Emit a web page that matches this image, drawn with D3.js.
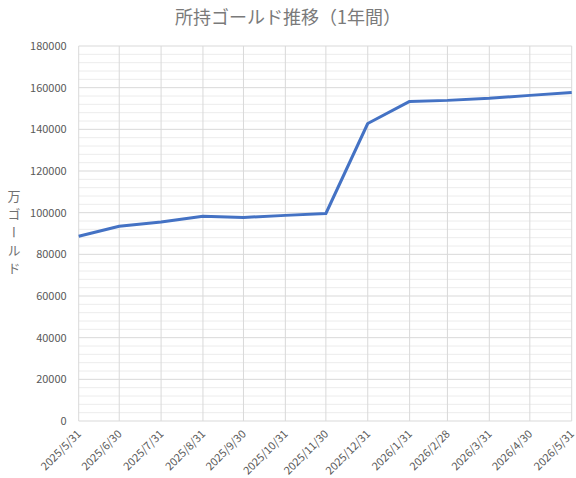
<!DOCTYPE html>
<html>
<head>
<meta charset="utf-8">
<script src="https://cdn.jsdelivr.net/npm/d3@7"></script>
<style>
  body { margin: 0; background: #fff; }
  text { font-family: "Noto Sans CJK JP", "Noto Sans", sans-serif; fill: #595959; }
</style>
</head>
<body>
<svg id="chart"></svg>
<script>
const width = 576;
const height = 478;

// data
const dates = ["2025/5/31", "2025/6/30", "2025/7/31", "2025/8/31", "2025/9/30", "2025/10/31",
  "2025/11/30", "2025/12/31", "2026/1/31", "2026/2/28", "2026/3/31", "2026/4/30", "2026/5/31"];
const gold = [88700, 93500, 95500, 98300, 97700, 98700, 99600, 142800, 153400, 153900, 154900, 156300, 157700];
const yTicks = [0, 20000, 40000, 60000, 80000, 100000, 120000, 140000, 160000, 180000];

const title = "所持ゴールド推移（1年間）";
const yTitle = "万ゴールド";

const margin = { top: 46, right: 4.3, bottom: 57, left: 78.7 };

const parse = d3.timeParse("%Y/%m/%d");
const points = dates.map((d, i) => ({ date: parse(d), label: d, value: gold[i] }));

const svg = d3.select("#chart").attr("width", width).attr("height", height);

const x = d3.scaleTime()
  .domain(d3.extent(points, d => d.date))
  .range([margin.left, width - margin.right]);

const y = d3.scaleLinear()
  .domain([0, 180000])
  .range([height - margin.bottom, margin.top]);

// minor gridlines every 4000
const minor = d3.range(0, 180001, 4000).filter(v => v % 20000 != 0);
svg.append("g")
  .selectAll("line")
  .data(minor)
  .join("line")
  .attr("x1", margin.left).attr("x2", width - margin.right)
  .attr("y1", d => y(d)).attr("y2", d => y(d))
  .attr("stroke", "#ececec").attr("stroke-width", 1);

// major horizontal gridlines
svg.append("g")
  .selectAll("line")
  .data(yTicks)
  .join("line")
  .attr("x1", margin.left).attr("x2", width - margin.right)
  .attr("y1", d => y(d)).attr("y2", d => y(d))
  .attr("stroke", "#d9d9d9").attr("stroke-width", 1);

// vertical gridlines at each date
svg.append("g")
  .selectAll("line")
  .data(points)
  .join("line")
  .attr("x1", d => x(d.date)).attr("x2", d => x(d.date))
  .attr("y1", y(0)).attr("y2", y(180000))
  .attr("stroke", "#d9d9d9").attr("stroke-width", 1);

// y axis labels
svg.append("g")
  .selectAll("text")
  .data(yTicks)
  .join("text")
  .attr("x", margin.left - 12)
  .attr("y", d => y(d))
  .attr("dy", "0.35em")
  .attr("text-anchor", "end")
  .attr("font-size", 11)
  .text(d => d);

// x axis labels, rotated
svg.append("g")
  .selectAll("text")
  .data(points)
  .join("text")
  .attr("transform", d => `translate(${x(d.date) + 0.5},${y(0) + 11}) rotate(-45)`)
  .attr("text-anchor", "end")
  .attr("dy", "0.35em")
  .attr("font-size", 11)
  .text(d => d.label);

// the line
const line = d3.line()
  .x(d => x(d.date))
  .y(d => y(d.value));

svg.append("path")
  .datum(points)
  .attr("fill", "none")
  .attr("stroke", "#4472c4")
  .attr("stroke-width", 3)
  .attr("stroke-linejoin", "round")
  .attr("d", line);

// title
svg.append("text")
  .attr("x", 288)
  .attr("y", 18)
  .attr("dy", "0.35em")
  .attr("text-anchor", "middle")
  .attr("font-size", 18)
  .style("fill", "#7a7a7a")
  .text(title);

// vertical y axis title
svg.append("text")
  .attr("x", 14)
  .attr("y", 190)
  .attr("font-size", 13)
  .style("fill", "#707070")
  .style("writing-mode", "vertical-rl")
  .style("text-orientation", "upright")
  .style("letter-spacing", "5px")
  .text(yTitle);
</script>
</body>
</html>
